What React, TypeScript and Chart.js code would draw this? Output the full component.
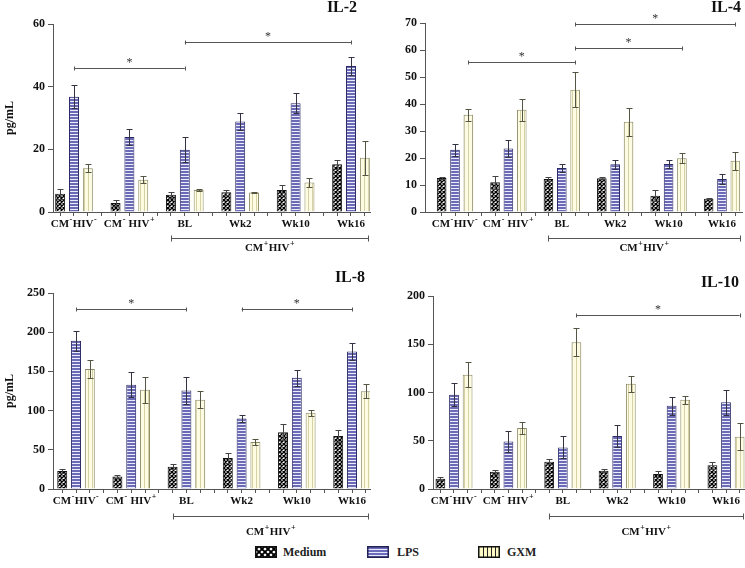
import React, { useEffect, useRef } from 'react';
import { Chart, registerables } from 'chart.js';
Chart.register(...registerables);

const FONT = "'Liberation Serif', 'DejaVu Serif', 'Times New Roman', serif";

// ---------- data ----------
const categories = ['CM⁻HIV⁻', 'CM⁻ HIV⁺', 'BL', 'Wk2', 'Wk10', 'Wk16'];
const seriesNames = ['Medium', 'LPS', 'GXM'];
const groupLabel = 'CM⁺HIV⁺';

// IL-2
const il2Medium = [5.8, 2.9, 5.5, 6.3, 7.0, 15.2];
const il2MediumErr = [1.6, 0.9, 1.0, 0.8, 1.7, 1.4];
const il2LPS = [36.8, 23.9, 19.9, 28.9, 34.7, 46.6];
const il2LPSErr = [3.6, 2.5, 4.1, 2.6, 3.2, 2.9];
const il2GXM = [14.0, 10.3, 7.0, 6.2, 9.4, 17.3];
const il2GXMErr = [1.3, 1.1, 0.3, 0.2, 1.4, 5.4];
const il2Ticks = [0, 20, 40, 60];
const il2Brackets = [
  { from: [0, 1], to: [2, 1], y: 46 },
  { from: [2, 1], to: [5, 1], y: 54.3 },
];

// IL-4
const il4Medium = [12.6, 11.0, 12.2, 12.5, 6.0, 4.9];
const il4MediumErr = [0.3, 2.4, 0.7, 0.3, 2.0, 0.2];
const il4LPS = [23.1, 23.5, 16.3, 17.7, 17.8, 12.2];
const il4LPSErr = [2.2, 3.1, 1.6, 1.6, 1.5, 1.9];
const il4GXM = [36.0, 37.9, 45.3, 33.4, 19.9, 19.0];
const il4GXMErr = [2.3, 4.1, 6.4, 5.3, 1.8, 3.3];
const il4Ticks = [0, 10, 20, 30, 40, 50, 60, 70];
const il4Brackets = [
  { from: [0, 2], to: [2, 2], y: 55.5 },
  { from: [2, 2], to: [4, 2], y: 60.7 },
  { from: [2, 2], to: [5, 2], y: 69.6 },
];

// IL-8
const il8Medium = [23, 15.8, 28.5, 39.6, 72.4, 67.7];
const il8MediumErr = [2, 2.1, 3.5, 6, 10.2, 7.3];
const il8LPS = [189, 133, 125.6, 89.9, 141.8, 175.5];
const il8LPSErr = [13, 16, 17, 4.2, 10.2, 10.5];
const il8GXM = [153, 126.5, 113.7, 60, 97.1, 124.8];
const il8GXMErr = [12, 16.2, 10.7, 3.5, 4.3, 8.9];
const il8Ticks = [0, 50, 100, 150, 200, 250];
const il8Brackets = [
  { from: [0, 1], to: [2, 1], y: 230 },
  { from: [3, 1], to: [5, 1], y: 230 },
];

// IL-10
const il10Medium = [10.7, 17.9, 28.3, 19, 15.5, 24.5];
const il10MediumErr = [1.7, 2.1, 2.7, 1.7, 3.5, 3.5];
const il10LPS = [97.6, 49.3, 43.1, 54.8, 86.2, 90];
const il10LPSErr = [12.1, 11, 11.4, 11.1, 9.3, 12.8];
const il10GXM = [118.3, 63.1, 152, 109, 92.4, 54.1];
const il10GXMErr = [13.1, 6.2, 14.6, 8, 4.2, 14.2];
const il10Ticks = [0, 50, 100, 150, 200];
const il10Brackets = [{ from: [2, 2], to: [5, 2], y: 180 }];

// ---------- panel setup ----------
type Bracket = { from: number[]; to: number[]; y: number };
type PanelDef = {
  title: string;
  values: number[][];
  errors: number[][];
  ticks: number[];
  brackets: Bracket[];
  yTitle: boolean;
  box: { left: number; top: number; w: number; h: number };
  yWidth: number;
  padTop: number;
  padRight: number;
  xHeight: number;
  xMin: number;
  xMax: number;
  titlePos: number[];
  groupLineOff: number;
  groupLabelOff: number;
};

const panels: PanelDef[] = [
  {
    title: 'IL-2',
    values: [il2Medium, il2LPS, il2GXM],
    errors: [il2MediumErr, il2LPSErr, il2GXMErr],
    ticks: il2Ticks,
    brackets: il2Brackets,
    yTitle: true,
    box: { left: 0, top: 0, w: 372, h: 260 },
    yWidth: 53, padTop: 24, padRight: 2, xHeight: 48,
    xMin: -0.379, xMax: 5.343,
    titlePos: [342, 8],
    groupLineOff: 26, groupLabelOff: 36,
  },
  {
    title: 'IL-4',
    values: [il4Medium, il4LPS, il4GXM],
    errors: [il4MediumErr, il4LPSErr, il4GXMErr],
    ticks: il4Ticks,
    brackets: il4Brackets,
    yTitle: false,
    box: { left: 372, top: 0, w: 373, h: 260 },
    yWidth: 53, padTop: 23, padRight: 3, xHeight: 48,
    xMin: -0.562, xMax: 5.375,
    titlePos: [354, 8],
    groupLineOff: 26, groupLabelOff: 36,
  },
  {
    title: 'IL-8',
    values: [il8Medium, il8LPS, il8GXM],
    errors: [il8MediumErr, il8LPSErr, il8GXMErr],
    ticks: il8Ticks,
    brackets: il8Brackets,
    yTitle: true,
    box: { left: 0, top: 260, w: 372, h: 284 },
    yWidth: 53, padTop: 33, padRight: 2, xHeight: 55,
    xMin: -0.417, xMax: 5.326,
    titlePos: [350, 18],
    groupLineOff: 27, groupLabelOff: 43,
  },
  {
    title: 'IL-10',
    values: [il10Medium, il10LPS, il10GXM],
    errors: [il10MediumErr, il10LPSErr, il10GXMErr],
    ticks: il10Ticks,
    brackets: il10Brackets,
    yTitle: false,
    box: { left: 372, top: 260, w: 373, h: 284 },
    yWidth: 61, padTop: 36, padRight: 0, xHeight: 55,
    xMin: -0.386, xMax: 5.349,
    titlePos: [348, 23],
    groupLineOff: 27, groupLabelOff: 43,
  },
];

const borderColors = ['#111111', '#2a2a66', '#8c8a66'];
const errColors = ['#444444', '#333344', '#555544'];

function tile(w: number, h: number, draw: (c: CanvasRenderingContext2D) => void) {
  const cv = document.createElement('canvas');
  cv.width = w;
  cv.height = h;
  const c = cv.getContext('2d')!;
  draw(c);
  return cv;
}

function makePatterns(ctx: CanvasRenderingContext2D) {
  const med = tile(4, 4, (c) => {
    c.fillStyle = '#ffffff';
    c.fillRect(0, 0, 4, 4);
    c.strokeStyle = '#000000';
    c.lineWidth = 1.4;
    c.beginPath();
    c.moveTo(-1, -1); c.lineTo(5, 5);
    c.moveTo(-1, 5); c.lineTo(5, -1);
    c.stroke();
  });
  const lps = tile(4, 3, (c) => {
    c.fillStyle = '#6a6ab6';
    c.fillRect(0, 0, 4, 2);
    c.fillStyle = '#ececfa';
    c.fillRect(0, 2, 4, 1);
  });
  const gxm = tile(4, 1, (c) => {
    c.fillStyle = '#fdfce2';
    c.fillRect(0, 0, 4, 1);
    c.fillStyle = '#d4d2a4';
    c.fillRect(0, 0, 1, 1);
  });
  return [
    ctx.createPattern(med, 'repeat')!,
    ctx.createPattern(lps, 'repeat')!,
    ctx.createPattern(gxm, 'repeat')!,
  ];
}

// draw text where ⁻ / ⁺ become raised, smaller signs
function drawRich(c: CanvasRenderingContext2D, text: string, cx: number, cy: number, size: number) {
  const runs: { t: string; sup: boolean }[] = [];
  for (const ch of text) {
    const sup = ch === '⁻' || ch === '⁺';
    const t = ch === '⁻' ? '-' : ch === '⁺' ? '+' : ch;
    const last = runs[runs.length - 1];
    if (last && last.sup === sup) last.t += t;
    else runs.push({ t, sup });
  }
  const normal = `bold ${size}px ${FONT}`;
  const small = `bold ${Math.round(size * 0.72)}px ${FONT}`;
  let total = 0;
  const widths = runs.map((r) => {
    c.font = r.sup ? small : normal;
    const w = c.measureText(r.t).width + (r.sup ? 1 : 0);
    total += w;
    return w;
  });
  let x = cx - total / 2;
  c.textAlign = 'left';
  c.textBaseline = 'middle';
  runs.forEach((r, i) => {
    c.font = r.sup ? small : normal;
    c.fillText(r.t, x + (r.sup ? 0.5 : 0), r.sup ? cy - size * 0.38 : cy);
    x += widths[i];
  });
}

function PanelChart({ p }: { p: PanelDef }) {
  const ref = useRef<HTMLCanvasElement | null>(null);
  useEffect(() => {
    const canvas = ref.current!;
    const ctx = canvas.getContext('2d')!;
    const pats = makePatterns(ctx);
    const yMax = p.ticks[p.ticks.length - 1];
    const yStep = p.ticks[1] - p.ticks[0];

    const overlay = {
      id: 'overlay',
      afterDatasetsDraw(chart: any) {
        const c: CanvasRenderingContext2D = chart.ctx;
        const ys = chart.scales.y;
        const xs = chart.scales.x;
        const area = chart.chartArea;
        c.save();
        // error bars
        for (let s = 0; s < 3; s++) {
          const meta = chart.getDatasetMeta(s);
          meta.data.forEach((el: any, i: number) => {
            const v = p.values[s][i];
            const e = p.errors[s][i];
            const x = Math.round(el.x) + 0.5;
            const t = Math.round(ys.getPixelForValue(v + e)) + 0.5;
            const b = Math.round(ys.getPixelForValue(Math.max(0, v - e))) + 0.5;
            c.strokeStyle = errColors[s];
            c.lineWidth = 1;
            c.beginPath();
            c.moveTo(x, t); c.lineTo(x, b);
            c.moveTo(x - 3, t); c.lineTo(x + 3, t);
            c.moveTo(x - 3, b); c.lineTo(x + 3, b);
            c.stroke();
          });
        }
        // category labels
        c.fillStyle = '#111111';
        categories.forEach((lab, i) => {
          drawRich(c, lab, xs.getPixelForValue(i), area.bottom + 12.5, 11);
        });
        // significance brackets
        c.strokeStyle = '#555555';
        c.fillStyle = '#333333';
        c.lineWidth = 1;
        p.brackets.forEach((br) => {
          const x1 = chart.getDatasetMeta(br.from[1]).data[br.from[0]].x;
          const x2 = chart.getDatasetMeta(br.to[1]).data[br.to[0]].x;
          const y = Math.round(ys.getPixelForValue(br.y)) + 0.5;
          c.beginPath();
          c.moveTo(x1, y); c.lineTo(x2, y);
          c.moveTo(Math.round(x1) + 0.5, y - 2); c.lineTo(Math.round(x1) + 0.5, y + 2);
          c.moveTo(Math.round(x2) + 0.5, y - 2); c.lineTo(Math.round(x2) + 0.5, y + 2);
          c.stroke();
          c.font = `12px ${FONT}`;
          c.textAlign = 'center';
          c.textBaseline = 'alphabetic';
          c.fillText('*', (x1 + x2) / 2, y - 3);
        });
        // CM+HIV+ group bracket
        const gx1 = Math.round(chart.getDatasetMeta(0).data[2].x) + 0.5;
        const gx2 = Math.round(area.right - 2) + 0.5;
        const gy = Math.round(area.bottom + p.groupLineOff) + 0.5;
        c.strokeStyle = '#555555';
        c.beginPath();
        c.moveTo(gx1, gy); c.lineTo(gx2, gy);
        c.moveTo(gx1, gy - 3); c.lineTo(gx1, gy + 3);
        c.moveTo(gx2, gy - 3); c.lineTo(gx2, gy + 3);
        c.stroke();
        c.fillStyle = '#111111';
        drawRich(c, groupLabel, (gx1 + gx2) / 2, area.bottom + p.groupLabelOff, 11);
        // panel title
        c.font = `bold 16px ${FONT}`;
        c.textAlign = 'center';
        c.textBaseline = 'middle';
        c.fillText(p.title, p.titlePos[0], p.titlePos[1]);
        c.restore();
      },
    };

    const chart = new Chart(ctx, {
      type: 'bar',
      data: {
        datasets: [0, 1, 2].map((s) => ({
          label: seriesNames[s],
          data: p.values[s].map((v, i) => ({ x: i, y: v })),
          backgroundColor: pats[s] as any,
          borderColor: borderColors[s],
          borderWidth: 1,
          categoryPercentage: 3,
          barPercentage: 0.72,
        })),
      },
      options: {
        responsive: false,
        animation: false,
        events: [],
        layout: { padding: { top: p.padTop, right: p.padRight, left: 0, bottom: 0 } },
        plugins: { legend: { display: false }, tooltip: { enabled: false } },
        scales: {
          x: {
            type: 'linear',
            offset: false,
            bounds: 'data',
            min: p.xMin,
            max: p.xMax,
            afterBuildTicks: (axis: any) => {
              const t: { value: number }[] = [];
              for (let i = 0; i < categories.length; i++) {
                [-0.25, 0, 0.25, 0.5].forEach((d) => {
                  const v = i + d;
                  if (v >= p.xMin && v <= p.xMax) t.push({ value: v });
                });
              }
              axis.ticks = t;
            },
            afterDataLimits: (axis: any) => {
              axis.min = p.xMin;
              axis.max = p.xMax;
            },
            afterFit: (axis: any) => {
              axis.height = p.xHeight;
            },
            ticks: {
              autoSkip: false,
              maxRotation: 0,
              minRotation: 0,
              callback: () => '',
            },
            grid: { offset: false, drawOnChartArea: false, drawTicks: true, tickLength: 4, color: '#555555' },
            border: { display: true, color: '#555555' },
          },
          y: {
            min: 0,
            max: yMax,
            afterBuildTicks: (axis: any) => {
              axis.ticks = p.ticks.map((v) => ({ value: v }));
            },
            afterFit: (axis: any) => {
              axis.width = p.yWidth;
            },
            ticks: {
              stepSize: yStep,
              padding: 3,
              color: '#111111',
              font: { family: FONT, weight: 'bold', size: 12 },
            },
            grid: { drawOnChartArea: false, drawTicks: true, tickLength: 5, color: '#555555' },
            border: { display: true, color: '#555555' },
            title: {
              display: p.yTitle,
              text: 'pg/mL',
              color: '#111111',
              font: { family: FONT, weight: 'bold', size: 12 },
              padding: { top: 3, bottom: 0 },
            },
          },
        },
      } as any,
      plugins: [overlay],
    });
    return () => chart.destroy();
  }, [p]);

  return (
    <canvas
      ref={ref}
      width={p.box.w}
      height={p.box.h}
      style={{ position: 'absolute', left: p.box.left, top: p.box.top, width: p.box.w, height: p.box.h }}
    />
  );
}

function Swatch({ kind, left }: { kind: number; left: number }) {
  const ref = useRef<HTMLCanvasElement | null>(null);
  useEffect(() => {
    const c = ref.current!.getContext('2d')!;
    const w = 22, h = 12;
    c.clearRect(0, 0, w, h);
    c.save();
    if (kind === 0) {
      c.fillStyle = '#ffffff';
      c.fillRect(0, 0, w, h);
      c.beginPath();
      c.rect(0, 0, w, h);
      c.clip();
      c.strokeStyle = '#000000';
      c.lineWidth = 1.8;
      c.beginPath();
      for (let k = -20; k < 40; k += 6) {
        c.moveTo(k, 0); c.lineTo(k + h, h);
        c.moveTo(k + h, 0); c.lineTo(k, h);
      }
      c.stroke();
    } else if (kind === 1) {
      c.fillStyle = '#6c6cbc';
      c.fillRect(0, 0, w, h);
      c.fillStyle = '#e8e8fa';
      [3, 6, 9].forEach((y) => c.fillRect(0, y, w, 1));
    } else {
      c.fillStyle = '#fdf8c4';
      c.fillRect(0, 0, w, h);
      c.fillStyle = '#222222';
      [5, 9, 13, 17].forEach((x) => c.fillRect(x, 0, 1, h));
    }
    c.restore();
    c.strokeStyle = kind === 1 ? '#222255' : '#111111';
    c.lineWidth = 1.5;
    c.strokeRect(0.75, 0.75, w - 1.5, h - 1.5);
  }, [kind]);
  return (
    <canvas
      ref={ref}
      width={22}
      height={12}
      style={{ position: 'absolute', left, top: 546, width: 22, height: 12 }}
    />
  );
}

const legendPos = [
  { box: 255, text: 283 },
  { box: 367, text: 397 },
  { box: 478, text: 507 },
];

export default function App() {
  return (
    <div
      style={{
        position: 'absolute',
        left: 0,
        top: 0,
        width: 745,
        height: 568,
        background: '#ffffff',
        overflow: 'hidden',
      }}
    >
      {panels.map((p) => (
        <PanelChart key={p.title} p={p} />
      ))}
      {seriesNames.map((name, i) => (
        <React.Fragment key={name}>
          <Swatch kind={i} left={legendPos[i].box} />
          <div
            style={{
              position: 'absolute',
              left: legendPos[i].text,
              top: 544,
              fontFamily: FONT,
              fontWeight: 'bold',
              fontSize: 12,
              lineHeight: '16px',
              color: '#222222',
              whiteSpace: 'nowrap',
            }}
          >
            {name}
          </div>
        </React.Fragment>
      ))}
    </div>
  );
}
